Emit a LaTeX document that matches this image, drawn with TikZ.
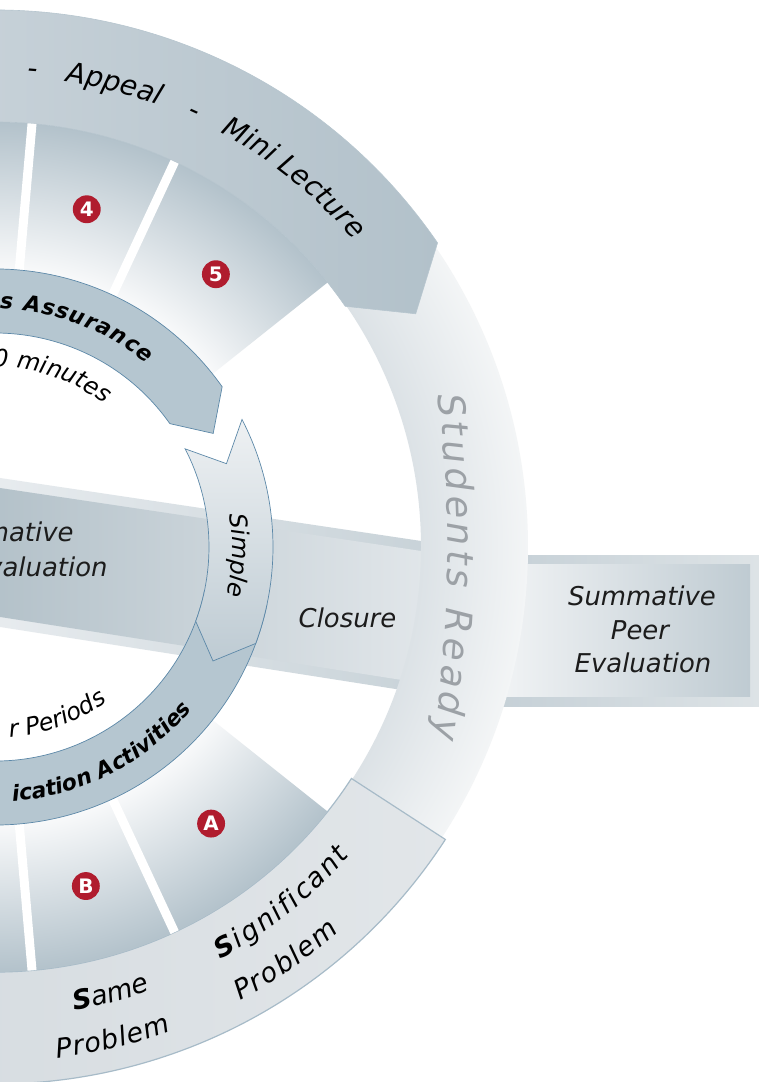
\documentclass[tikz,border=0pt]{standalone}
\usepackage{fontspec}
\usetikzlibrary{decorations.text}
\newfontfamily\dv{DejaVu Sans}[ItalicFont={DejaVu Sans Oblique},BoldFont={DejaVu Sans Bold},BoldItalicFont={DejaVu Sans Bold Oblique}]
\newcommand\fTop{\dv\itshape\fontsize{28}{34}\selectfont}
\newcommand\fBot{\dv\itshape\fontsize{27}{32}\selectfont}
\newcommand\fBotB{\dv\bfseries\itshape\fontsize{27}{32}\selectfont}
\newcommand\fMid{\dv\itshape\fontsize{26}{31}\selectfont}
\newcommand\fBand{\dv\bfseries\itshape\fontsize{22}{26}\selectfont}
\newcommand\fIn{\dv\itshape\fontsize{24}{28}\selectfont}
\newcommand\fSR{\dv\itshape\fontsize{37}{42}\selectfont}
\newcommand\fBadge{\dv\bfseries\fontsize{20}{24}\selectfont}
\definecolor{topL}{HTML}{D2DAE0}
\definecolor{topR}{HTML}{B2C1CA}
\definecolor{topLine}{HTML}{B7C6CF}
\definecolor{botL}{HTML}{D1D8DD}
\definecolor{botR}{HTML}{E2E6E9}
\definecolor{botLine}{HTML}{A7BBC8}
\definecolor{segin}{HTML}{F8F9FA}
\definecolor{segout}{HTML}{B3C2CB}
\definecolor{ringin}{HTML}{DCE2E6}
\definecolor{ringout}{HTML}{F3F5F6}
\definecolor{bandfill}{HTML}{B5C6D0}
\definecolor{bandline}{HTML}{5C88A8}
\definecolor{badge}{HTML}{B01C2E}
\definecolor{srgray}{HTML}{9CA1A6}
\definecolor{ink}{HTML}{1C1C1C}
\definecolor{ribEL}{HTML}{E8ECEF}
\definecolor{ribER}{HTML}{C5D0D6}
\definecolor{ribBL}{HTML}{B3C1C9}
\definecolor{ribBM}{HTML}{C2CDD3}
\definecolor{ribBR}{HTML}{E6EAED}
\definecolor{boxEL}{HTML}{C3CED5}
\definecolor{boxER}{HTML}{DDE3E6}
\definecolor{boxBL}{HTML}{F7F8F9}
\definecolor{boxBM}{HTML}{EDF0F2}
\definecolor{boxBR}{HTML}{BFCBD2}
\definecolor{simT}{HTML}{EEF1F3}
\definecolor{simM}{HTML}{DCE3E7}
\definecolor{simB}{HTML}{BECBD3}
% TikZ maps the central 50bp square of a shading onto the path's bounding box
\pgfdeclareradialshading{segshade}{\pgfpoint{0bp}{0bp}}{color(0bp)=(segin); color(16.35bp)=(segin); color(25bp)=(segout); color(50bp)=(segout)}
\pgfdeclareradialshading{ringshade}{\pgfpoint{0bp}{0bp}}{color(0bp)=(ringin); color(19.98bp)=(ringin); color(25bp)=(ringout); color(50bp)=(ringout)}
\begin{document}
\begin{tikzpicture}[x=1bp,y=1bp,
  lbl/.style={text=ink, inner sep=0pt},
  bandshape/.style={fill=bandfill, draw=bandline, line width=0.7},
  badgenode/.style={circle, fill=badge, minimum size=28, inner sep=0pt, text=white, font=\fBadge},
]
\useasboundingbox (0,0) rectangle (759,1082);
\fill[white] (0,0) rectangle (759,1082);
\clip (0,0) rectangle (759,1082);

% ribbon (Formative -> Closure -> Summative)
\shade[left color=ribEL, right color=ribER] (-10,605.5) -- (470,533.7) -- (470,381.3) -- (-10,456.6) -- cycle;
\shade[left color=ribBL, middle color=ribBM, right color=ribBR] (-10,595.5) -- (470,523.7) -- (470,391.3) -- (-10,466.6) -- cycle;
\shade[left color=boxEL, right color=boxER] (470,375) rectangle (759,526);
\shade[left color=boxBL, middle color=boxBM, right color=boxBR] (470,385) rectangle (750,517);

\begin{scope}[shift={(-5,535)}]
  % Students Ready ring
  \begin{scope}
    \clip (0:533) arc[start angle=0,end angle=360,radius=533] -- (0:426) arc[start angle=360,end angle=0,radius=426] -- cycle;
    \shade[shading=ringshade] (0,0) circle[radius=533];
  \end{scope}
  % top outer band
  \shadedraw[left color=topL, right color=topR, draw=topLine, line width=0.6]
    (120:537) arc[start angle=120,end angle=34.5,radius=537] -- (29:481) -- (34.5:425) arc[start angle=34.5,end angle=120,radius=425] -- cycle;
  % bottom outer band
  \shadedraw[left color=botL, right color=botR, draw=botLine, line width=1.2]
    (-33:425) -- (-33:537) arc[start angle=-33,end angle=-120,radius=537] -- (-120:425) arc[start angle=-120,end angle=-33,radius=425] -- cycle;
  % segments
  \begin{scope}
    \clip (38.5:278) -- (38.5:425) arc[start angle=38.5,end angle=120,radius=425] -- (120:278) arc[start angle=120,end angle=38.5,radius=278] -- cycle
          (-38.5:278) -- (-38.5:425) arc[start angle=-38.5,end angle=-120,radius=425] -- (-120:278) arc[start angle=-120,end angle=-38.5,radius=278] -- cycle;
    \shade[shading=segshade] (0,0) circle[radius=425];
  \end{scope}
  \foreach \a in {85,65,-65,-85} \draw[white, line width=9] (\a:278) -- (\a:425);
  % inner bands
  \draw[bandshape] (170:278) arc[start angle=170,end angle=35.2,radius=278] -- (27.5:246) -- (35.2:214) arc[start angle=35.2,end angle=170,radius=214] -- cycle;
  \draw[bandshape] (-170:278) arc[start angle=-170,end angle=-12,radius=278] -- (-12:214) arc[start angle=-12,end angle=-170,radius=214] -- cycle;
  % Simple arrow
  \shadedraw[top color=simT, middle color=simM, bottom color=simB, draw=bandline, line width=0.7]
    (27.3:278) arc[start angle=27.3,end angle=-20.3,radius=278] -- (-27.6:246) -- (-20.3:214) arc[start angle=-20.3,end angle=27.3,radius=214] -- (19.8:246) -- cycle;

  % texts on the top band
  \path[decorate,decoration={text along path,text={|\fTop|-},text align=center}] (87.5:471) arc[start angle=87.5,end angle=83.5,radius=471];
  \path[decorate,decoration={text along path,text={|\fTop|Appeal},text align=center}] (89:471) arc[start angle=89,end angle=62,radius=471];
  \path[decorate,decoration={text along path,text={|\fTop|-},text align=center}] (67.4:471) arc[start angle=67.4,end angle=63.4,radius=471];
  \path[decorate,decoration={text along path,text={|\fTop|Mini Lecture},text align=center}] (70:472) arc[start angle=70,end angle=32,radius=472];
  % inner band texts
  \path[decorate,decoration={text along path,text={|\fBand|s Assurance},text align=fit to path}] (88.8:238) arc[start angle=88.8,end angle=50.5,radius=238];
  \path[decorate,decoration={text along path,text={|\fIn|0 minutes},text align=right}] (110:180) arc[start angle=110,end angle=52.5,radius=180];
  \path[decorate,decoration={text along path,text={|\fIn|Simple},text align=center}] (20:237) arc[start angle=20,end angle=-24,radius=237];
  \path[decorate,decoration={text along path,text={|\fBand|ication Activities},text align=right}] (-110:255) arc[start angle=-110,end angle=-39.5,radius=255];
  \path[decorate,decoration={text along path,text={|\fIn|r Periods},text align=right}] (-105:191) arc[start angle=-105,end angle=-54,radius=191];
  % bottom band texts
  \path[decorate,decoration={text along path,text={|\fBotB|S|\fBot|ignificant},text align=fit to path}] (-61.4:470) arc[start angle=-61.4,end angle=-41,radius=470];
  \path[decorate,decoration={text along path,text={|\fBot|Problem},text align=fit to path}] (-61.6:516) arc[start angle=-61.6,end angle=-48.2,radius=516];
  \path[decorate,decoration={text along path,text={|\fBotB|S|\fBot|ame},text align=center}] (-85:470) arc[start angle=-85,end angle=-66,radius=470];
  \path[decorate,decoration={text along path,text={|\fBot|Problem},text align=fit to path}] (-83.1:515) arc[start angle=-83.1,end angle=-70,radius=515];

  % badges
  \node[badgenode] (b4) at (74.8:350) {4};
  \node[badgenode] (b5) at (51:351) {5};
  \node[badgenode] (bA) at (-52:351) {A};
  \node[badgenode] (bB) at (-75:351) {B};
\end{scope}

% Students Ready
\begin{scope}[shift={(-750,530)}]
  \path[decorate,decoration={text along path,text={|\color{srgray}\fSR|Students Ready},text align=fit to path}] (7.5:1198) arc[start angle=7.5,end angle=-9,radius=1198];
\end{scope}

% straight labels
\node[lbl, font=\fMid, anchor=base] (for1) at (8,540) {Formative};
\node[lbl, font=\fMid, anchor=base] (for2) at (6,505) {Peer Evaluation};
\node[lbl, font=\fMid, anchor=base] (clo) at (347.5,454) {Closure};
\node[lbl, font=\fMid, anchor=base] (sum1) at (642,476) {Summative};
\node[lbl, font=\fMid, anchor=base] (sum2) at (640,442) {Peer};
\node[lbl, font=\fMid, anchor=base] (sum3) at (643,409) {Evaluation};
\end{tikzpicture}
\end{document}
